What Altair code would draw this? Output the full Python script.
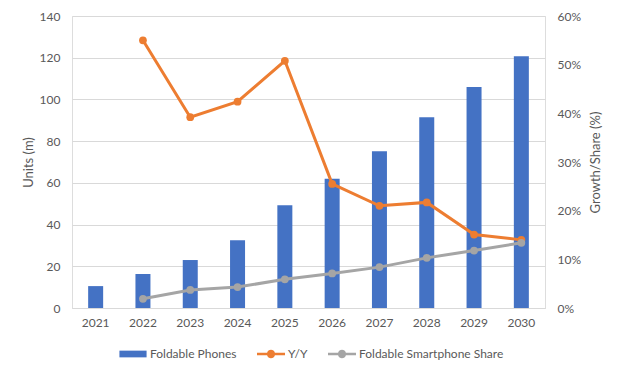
import altair as alt
import pandas as pd

years = ["2021", "2022", "2023", "2024", "2025", "2026", "2027", "2028", "2029", "2030"]
units = [10.5, 16.3, 23.0, 32.5, 49.3, 62.0, 75.1, 91.5, 105.9, 120.7]
yoy = [None, 0.550, 0.392, 0.424, 0.508, 0.255, 0.210, 0.217, 0.151, 0.140]
share = [None, 0.019, 0.037, 0.043, 0.059, 0.071, 0.084, 0.103, 0.118, 0.134]
series = ["Foldable Phones", "Y/Y", "Foldable Smartphone Share"]
colors = ["#4472C4", "#ED7D31", "#A5A5A5"]

FONT = "Lato"
TXT = "#595959"

df = pd.DataFrame({"year": years, "units": units, "Y/Y": yoy, "Foldable Smartphone Share": share})
legend_df = pd.DataFrame({"series": series})

bar_path = "M-0.97,-0.24H0.97V0.24H-0.97Z"
line_path = ("M-1,-0.09H-0.28A0.29,0.29 0 0 1 0.28,-0.09H1V0.09H0.28"
             "A0.29,0.29 0 0 1 -0.28,0.09H-1Z")

leg = alt.Legend(title=None, orient="none", direction="horizontal",
                 legendX=47, legendY=324, padding=0,
                 symbolSize=784, symbolOpacity=1,
                 symbolStrokeWidth=0, columnPadding=20,
                 labelOffset=3, labelFont=FONT,
                 labelFontSize=12, labelColor=TXT)
color_scale = alt.Scale(domain=series, range=colors)

x_enc = alt.X("year:O", title=None, sort=years,
              scale=alt.Scale(paddingInner=0.0, paddingOuter=0.0),
              axis=alt.Axis(labelAngle=0, ticks=False, domainColor="#D9D9D9",
                            domainWidth=1, labelPadding=9, labelFont=FONT,
                            labelFontSize=12, labelColor=TXT))

bars = alt.Chart(df).mark_bar(size=15, color=colors[0]).encode(
    x=x_enc,
    y=alt.Y("units:Q", title="Units (m)",
            scale=alt.Scale(domain=[0, 140], nice=False),
            axis=alt.Axis(values=[0, 20, 40, 60, 80, 100, 120, 140], grid=True,
                          gridColor="#D9D9D9", domain=False, ticks=False,
                          labelPadding=12, labelFont=FONT, labelFontSize=12,
                          labelColor=TXT, titleFont=FONT, titleFontSize=13,
                          titleFontWeight="normal", titleColor=TXT, titlePadding=4))
)

lines = alt.Chart(df).transform_fold(
    ["Y/Y", "Foldable Smartphone Share"], as_=["series", "value"]
).transform_filter("isValid(datum.value)").mark_line(
    strokeWidth=3, point=alt.OverlayMarkDef(filled=True, size=60)
).encode(
    x=alt.X("year:O", sort=years),
    y=alt.Y("value:Q", title="Growth/Share (%)",
            scale=alt.Scale(domain=[0, 0.6], nice=False),
            axis=alt.Axis(orient="right", format=".0%",
                          values=[0, 0.1, 0.2, 0.3, 0.4, 0.5, 0.6], grid=False,
                          domain=False, ticks=False, labelPadding=12,
                          labelFont=FONT, labelFontSize=12, labelColor=TXT,
                          titleFont=FONT, titleFontSize=13, titleAngle=270,
                          titleFontWeight="normal", titleColor=TXT, titlePadding=22)),
    color=alt.Color("series:N", scale=color_scale, legend=leg),
)

legend_layer = alt.Chart(legend_df).mark_point(filled=True, opacity=0).encode(
    color=alt.Color("series:N", scale=color_scale, legend=leg),
    shape=alt.Shape("series:N", scale=alt.Scale(domain=series,
                                                range=[bar_path, line_path, line_path]),
                    legend=leg),
)

chart = alt.layer(bars, alt.layer(lines, legend_layer)).resolve_scale(
    y="independent"
).properties(
    width=473, height=292,
    autosize=alt.AutoSizeParams(type="none"),
    padding={"left": 72, "top": 16, "right": 75, "bottom": 69},
).configure_view(stroke=None).configure(background="white")

chart.save("out.html", embed_options={"renderer": "svg", "actions": False})
